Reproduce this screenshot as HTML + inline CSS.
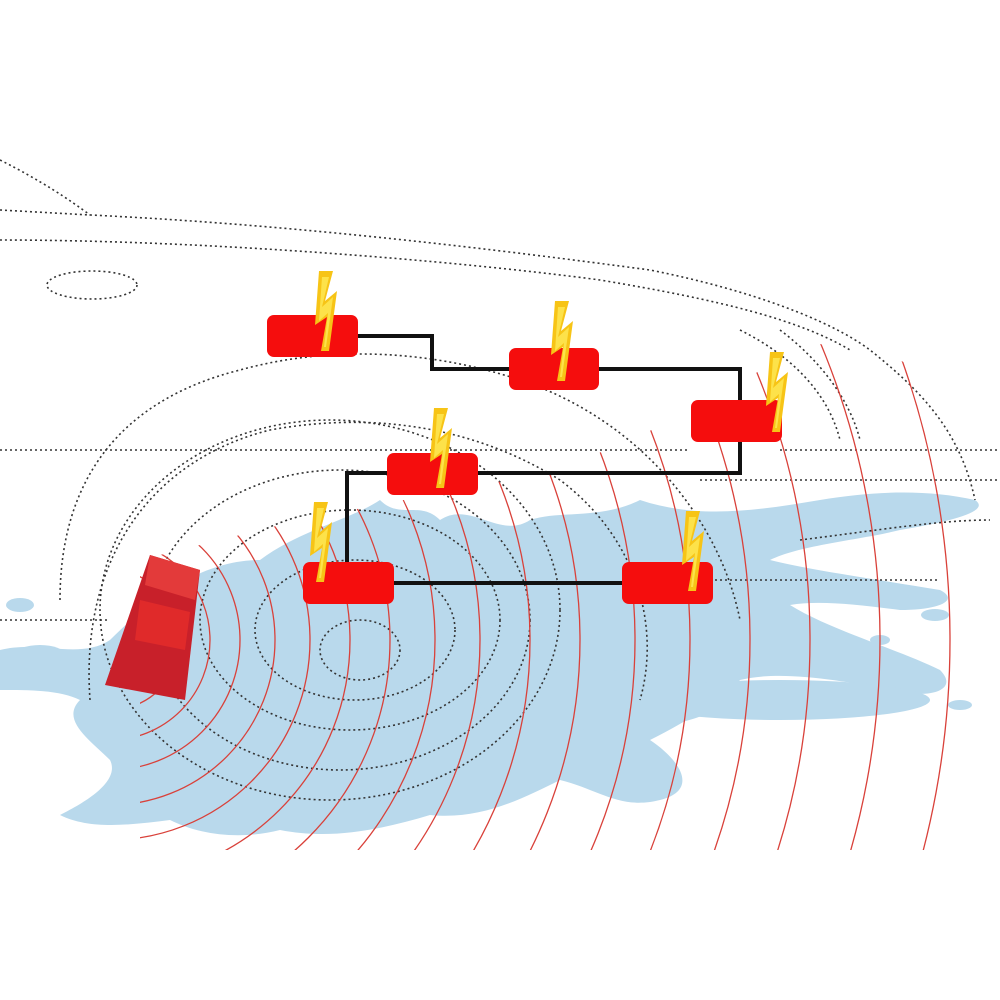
<!DOCTYPE html>
<html><head><style>html,body{margin:0;padding:0;background:#fff;width:1000px;height:1000px;overflow:hidden}svg{display:block}</style></head>
<body>
<svg width="1000" height="1000" viewBox="0 0 1000 1000" xmlns="http://www.w3.org/2000/svg">
<defs>
<g id="bolt"><polygon points="52,-44 66,-44 58,-14 70,-24 62,36 54,36 60,2 48,10" fill="#f7c416"/><polygon points="55,-38 62,-38 55,-8 66,-18 59,32 57,32 61,-2 52,6" fill="#fde24a"/></g>
<clipPath id="arcclip"><path d="M140,560 L300,520 L560,470 L720,400 L800,340 L900,360 L1000,420 L1000,850 L140,850 Z"/></clipPath>
</defs>
<rect width="1000" height="1000" fill="#fff"/>
<g fill="#b9d9ec">
<path d="M0,650 C40,640 80,660 110,640 C150,600 200,560 260,560 C300,530 350,520 380,500 C400,520 420,500 440,520 C470,500 500,540 530,520 C560,510 600,520 640,500 C700,520 760,510 820,500 C880,490 930,490 975,500 C990,510 960,520 900,530 C860,540 800,545 770,560 C810,570 880,580 940,590 C960,600 940,610 900,610 C860,605 820,600 790,605 C830,630 900,650 940,670 C960,690 930,700 890,690 C840,680 780,670 740,680 C720,700 690,720 650,740 C680,760 700,790 660,800 C620,810 600,790 560,780 C520,800 480,820 430,815 C380,830 330,840 280,830 C240,840 200,835 170,820 C130,825 90,830 60,815 C90,800 120,780 110,760 C90,740 60,720 80,700 C60,690 30,690 0,690 Z"/>
<ellipse cx="20" cy="605" rx="14" ry="7"/><ellipse cx="935" cy="615" rx="14" ry="6"/><ellipse cx="880" cy="640" rx="10" ry="5"/><ellipse cx="960" cy="705" rx="12" ry="5"/><ellipse cx="40" cy="655" rx="25" ry="10"/>
<ellipse cx="600" cy="700" rx="120" ry="30"/><ellipse cx="780" cy="700" rx="150" ry="20"/>
</g>
<g fill="none" stroke="#333" stroke-width="1.6" stroke-dasharray="2,3">
<path d="M0,160 C40,180 70,200 90,215"/>
<path d="M0,210 L90,215 C300,225 500,250 650,270 C750,290 830,320 870,350 C920,390 960,430 975,500"/>
<path d="M0,240 C200,240 450,260 600,280 C720,300 800,320 850,350"/>
<ellipse cx="92" cy="285" rx="45" ry="14"/>
<path d="M0,450 L690,450"/>
<path d="M780,450 L1000,450"/>
<path d="M0,620 L110,620"/>
<path d="M740,330 C800,360 830,400 840,440"/>
<path d="M780,330 C820,360 850,400 860,440"/>
<path d="M60,600 C60,480 120,400 240,370 C330,345 430,350 520,380 C640,420 720,520 740,620"/>
<path d="M90,700 C80,560 150,460 270,430 C380,410 480,430 560,480 C640,540 660,630 640,700"/>
<ellipse cx="330" cy="610" rx="230" ry="190"/>
<ellipse cx="340" cy="620" rx="190" ry="150"/>
<ellipse cx="350" cy="620" rx="150" ry="110"/>
<ellipse cx="355" cy="630" rx="100" ry="70"/>
<ellipse cx="360" cy="650" rx="40" ry="30"/>
<path d="M700,480 L1000,480"/>
<path d="M700,580 L940,580"/>
<path d="M800,540 C880,530 940,520 990,520"/>
</g>
<g fill="none" stroke="#d9413a" stroke-width="1.3" clip-path="url(#arcclip)">
<circle cx="110" cy="640" r="70"/><circle cx="110" cy="640" r="100"/><circle cx="110" cy="640" r="130"/><circle cx="110" cy="640" r="165"/><circle cx="110" cy="640" r="200"/><circle cx="110" cy="640" r="240"/><circle cx="110" cy="640" r="280"/><circle cx="110" cy="640" r="325"/><circle cx="110" cy="640" r="370"/><circle cx="110" cy="640" r="420"/><circle cx="110" cy="640" r="470"/><circle cx="110" cy="640" r="525"/><circle cx="110" cy="640" r="580"/><circle cx="110" cy="640" r="640"/><circle cx="110" cy="640" r="700"/><circle cx="110" cy="640" r="770"/><circle cx="110" cy="640" r="840"/>
</g>
<polygon points="150,555 200,570 185,700 105,685" fill="#c8202a"/>
<polygon points="150,555 200,570 195,600 145,585" fill="#e33a3a"/>
<polygon points="140,600 190,612 185,650 135,640" fill="#e02a2a"/>
<g fill="none" stroke="#111" stroke-width="4">
<path d="M358,336 H432 V369 H509"/>
<path d="M599,369 H740 V400"/>
<path d="M740,442 V473 H347 V562"/>
<path d="M394,583 H622"/>
</g>
<g fill="#f50d0d">
<rect x="267" y="315" width="91" height="42" rx="7"/>
<rect x="509" y="348" width="90" height="42" rx="7"/>
<rect x="691" y="400" width="91" height="42" rx="7"/>
<rect x="387" y="453" width="91" height="42" rx="7"/>
<rect x="303" y="562" width="91" height="42" rx="7"/>
<rect x="622" y="562" width="91" height="42" rx="7"/>
</g>
<use href="#bolt" x="267" y="315"/>
<use href="#bolt" x="503" y="345"/>
<use href="#bolt" x="718" y="396"/>
<use href="#bolt" x="382" y="452"/>
<use href="#bolt" x="262" y="546"/>
<use href="#bolt" x="634" y="555"/>
</svg>
</body></html>
